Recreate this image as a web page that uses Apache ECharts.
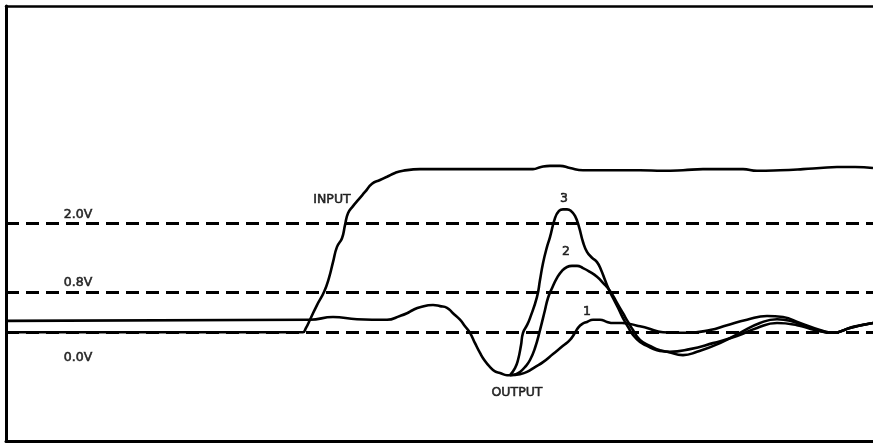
<!DOCTYPE html>
<html>
<head>
<meta charset="utf-8">
<script src="https://cdn.jsdelivr.net/npm/echarts@6/dist/echarts.min.js"></script>
<style>
html,body{margin:0;padding:0;background:#fff;}
#chart{width:873px;height:444px;}
</style>
</head>
<body>
<div id="chart"></div>
<script>
// time (arbitrary units) vs volts
const inputWave = [[0,0.00],[294,0.00],[297,0.00],[300,0.08],[304,0.23],[311,0.50],[318,0.74],[323,1.00],[327,1.29],[331,1.57],[336,1.73],[339,1.97],[342,2.19],[347,2.32],[352,2.43],[359,2.58],[366,2.73],[374,2.80],[381,2.86],[389,2.93],[397,2.97],[414,3.00],[431,3.00],[464,3.00],[497,3.00],[527,3.00],[535,3.04],[544,3.06],[554,3.06],[564,3.02],[577,2.98],[594,2.98],[614,2.98],[634,2.98],[657,2.97],[677,2.98],[697,3.00],[737,3.00],[751,2.97],[774,2.98],[797,3.00],[814,3.02],[831,3.04],[849,3.04],[867,3.02]];

const outputCommon = [[0,0.21],[304,0.23],[327,0.28],[351,0.24],[381,0.23],[394,0.30],[401,0.35],[407,0.41],[414,0.46],[427,0.50],[434,0.48],[441,0.45],[447,0.35],[454,0.23],[459,0.11],[464,-0.01],[469,-0.20],[474,-0.38],[479,-0.53],[484,-0.64],[489,-0.72],[494,-0.75],[501,-0.79],[504,-0.79]];

const output3 = [[504,-0.79],[509,-0.66],[512,-0.51],[515,-0.24],[517,-0.01],[521,0.13],[524,0.26],[531,0.65],[534,0.96],[537,1.27],[541,1.57],[544,1.75],[549,2.10],[553,2.23],[557,2.26],[561,2.26],[565,2.23],[569,2.14],[573,1.94],[577,1.66],[581,1.48],[586,1.37],[591,1.29],[595,1.15],[599,0.96],[603,0.78],[607,0.63],[612,0.45],[617,0.26],[622,0.10],[627,-0.05],[634,-0.18],[641,-0.25],[651,-0.33],[661,-0.36],[677,-0.42],[691,-0.36],[714,-0.20],[734,-0.01],[754,0.17],[771,0.24],[784,0.21],[807,0.06],[827,-0.01],[844,0.08],[867,0.17]];

const output2 = [[504,-0.79],[510,-0.77],[514,-0.73],[519,-0.64],[524,-0.51],[529,-0.29],[534,0.04],[539,0.41],[542,0.63],[546,0.81],[551,1.00],[556,1.13],[561,1.20],[566,1.22],[571,1.22],[577,1.18],[584,1.11],[591,1.02],[597,0.91],[604,0.76],[611,0.54],[617,0.35],[622,0.19],[627,0.04],[634,-0.14],[644,-0.25],[654,-0.33],[664,-0.36],[684,-0.31],[707,-0.20],[731,-0.07],[751,0.08],[771,0.17],[791,0.13],[809,0.04],[827,-0.01],[844,0.08],[867,0.17]];

const output1 = [[504,-0.79],[514,-0.77],[521,-0.73],[529,-0.64],[537,-0.55],[547,-0.40],[557,-0.25],[564,-0.14],[569,-0.01],[572,0.08],[576,0.15],[581,0.19],[587,0.23],[594,0.23],[601,0.19],[607,0.17],[616,0.17],[624,0.15],[634,0.11],[641,0.08],[657,0.00],[681,-0.01],[704,0.04],[721,0.13],[741,0.23],[761,0.30],[777,0.28],[794,0.17],[814,0.04],[827,-0.01],[847,0.10],[867,0.17]];

// threshold levels (line position in volts as drawn) and their labels
const levelValues = [2.0, 0.74, 0.0];
const levelLabels = ['2.0V', '0.8V', '0.0V'];
const levelLabelPos = [[72, 2.16], [72, 0.91], [72, -0.47]];

// annotation texts and positions
const noteTexts = ['INPUT', 'OUTPUT', '3', '2', '1'];
const notePos = [[326, 2.43], [511, -1.12], [558, 2.45], [560, 1.48], [581, 0.37]];

const chart = echarts.init(document.getElementById('chart'), null, {renderer: 'canvas'});

const lineStyle = {color: '#000', width: 2.6};
function wave(name, data) {
  return {
    name: name, type: 'line', data: data, showSymbol: false, symbol: 'none',
    smooth: 0.5, lineStyle: lineStyle, silent: true, z: 3
  };
}

const textData = levelLabels.map((t, i) => ({value: levelLabelPos[i], name: t}))
  .concat(noteTexts.map((t, i) => ({value: notePos[i], name: t})));

chart.setOption({
  animation: false,
  backgroundColor: '#fff',
  grid: {left: 6, right: 0, top: 6, bottom: 3},
  xAxis: [{
    type: 'value', min: 0, max: 867, position: 'bottom',
    axisLine: {show: true, onZero: false, lineStyle: {color: '#000', width: 3}},
    axisTick: {show: false}, axisLabel: {show: false}, splitLine: {show: false}
  }, {
    type: 'value', min: 0, max: 867, position: 'top',
    axisLine: {show: true, onZero: false, lineStyle: {color: '#000', width: 2.5}},
    axisTick: {show: false}, axisLabel: {show: false}, splitLine: {show: false}
  }],
  yAxis: {
    type: 'value', min: -2, max: 6,
    axisLine: {show: true, onZero: false, lineStyle: {color: '#000', width: 3}},
    axisTick: {show: false}, axisLabel: {show: false}, splitLine: {show: false}
  },
  series: [
    {
      name: 'levels', type: 'line', data: [], silent: true,
      markLine: {
        silent: true, symbol: 'none', animation: false,
        label: {show: false},
        lineStyle: {color: '#000', width: 3, type: [13, 7]},
        data: levelValues.map(v => ({yAxis: v}))
      }
    },
    wave('INPUT', inputWave),
    wave('OUTPUT', outputCommon),
    wave('OUTPUT 3', output3),
    wave('OUTPUT 2', output2),
    wave('OUTPUT 1', output1),
    {
      name: 'labels', type: 'scatter', data: textData, symbolSize: 0, silent: true, z: 5,
      label: {
        show: true, position: 'inside', formatter: p => p.name,
        color: '#000', fontFamily: 'DejaVu Sans', fontSize: 12.5,
        textBorderColor: '#000', textBorderWidth: 0.6
      }
    }
  ]
});
</script>
</body>
</html>
